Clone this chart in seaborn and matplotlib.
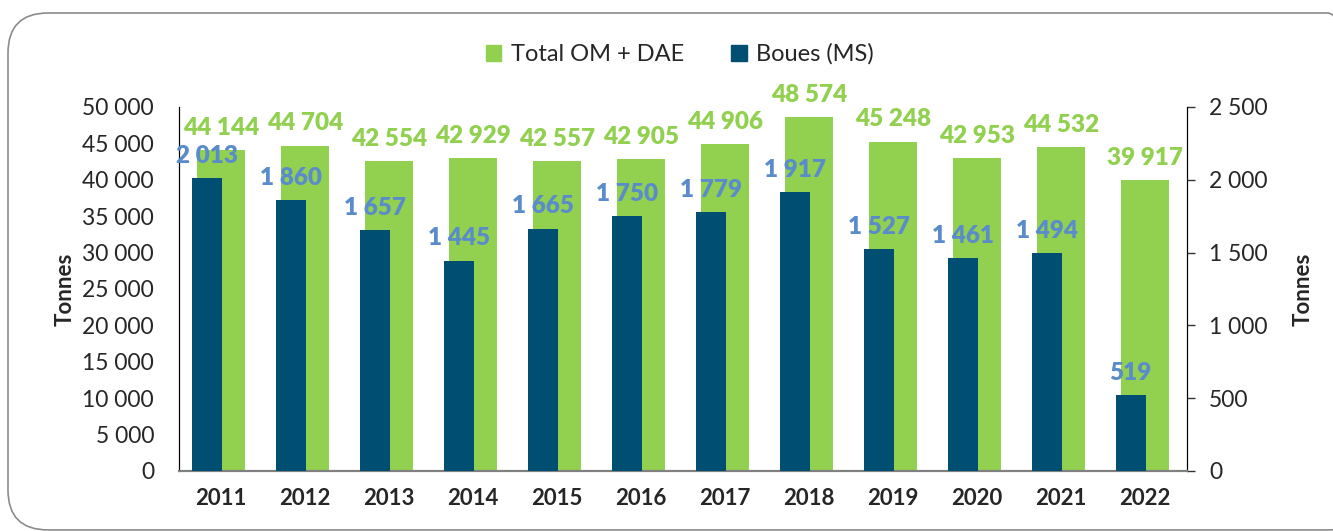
import pandas as pd
import matplotlib.pyplot as plt
import seaborn as sns
from matplotlib.patches import FancyBboxPatch, Patch

# data
years = ["2011", "2012", "2013", "2014", "2015", "2016", "2017", "2018", "2019", "2020", "2021", "2022"]
total_om_dae = [44144, 44704, 42554, 42929, 42557, 42905, 44906, 48574, 45248, 42953, 44532, 39917]
boues_ms = [2013, 1860, 1657, 1445, 1665, 1750, 1779, 1917, 1527, 1461, 1494, 519]

green = "#92D050"
dark = "#004E71"
label_blue = "#5A8CCB"

df = pd.DataFrame({"year": years, "total": total_om_dae, "boues": boues_ms})

sns.set_style("white")
plt.rcParams["font.family"] = ["Lato", "DejaVu Sans"]


def fmt(v):
    return f"{v:,}".replace(",", " ")


fig = plt.figure(figsize=(13.33, 5.31), dpi=100)
ax = fig.add_axes([0.1343, 0.113, 0.7562, 0.6855])
ax2 = ax.twinx()

# green bars on the left axis
sns.barplot(data=df, x="year", y="total", order=years, color=green, width=0.57,
            saturation=1, linewidth=0, ax=ax, zorder=2)

# dark bars on the right axis, shifted a bit to the left
sns.barplot(data=df, x="year", y="boues", order=years, color=dark, width=0.36,
            saturation=1, linewidth=0, ax=ax2, zorder=3)
for p in ax2.patches:
    p.set_x(p.get_x() - 0.17)

ax.set_ylim(0, 50000)
ax2.set_ylim(0, 2500)
ax.set_yticks(range(0, 50001, 5000))
ax2.set_yticks(range(0, 2501, 500))
ax.set_yticklabels([fmt(v) for v in range(0, 50001, 5000)], fontsize=16.5)
ax2.set_yticklabels([fmt(v) for v in range(0, 2501, 500)], fontsize=16.5)
ax.set_xlim(-0.5, len(years) - 0.5)

ax.set_xticks(range(len(years)))
ax.set_xticklabels(years, fontsize=16, fontweight="bold")
ax.tick_params(axis="x", length=0, pad=12)
ax.tick_params(axis="y", length=0, pad=18)
ax2.tick_params(axis="y", length=6, width=1, color="#333333", pad=10)

ax.set_xlabel("")
ax.set_ylabel("Tonnes", fontsize=16, fontweight="bold", labelpad=5)
ax2.set_ylabel("Tonnes", fontsize=16, fontweight="bold", labelpad=18)

for a in (ax, ax2):
    a.spines["top"].set_visible(False)
    a.spines["left"].set_color("black")
    a.spines["right"].set_color("black")
    a.spines["bottom"].set_color("#808080")
    a.spines["bottom"].set_linewidth(1.5)
    a.grid(False)

# value labels
for i, v in enumerate(total_om_dae):
    ax.annotate(fmt(v), (i, v), xytext=(0, 8), textcoords="offset points",
                ha="center", va="bottom", fontsize=17.5, fontweight="heavy",
                color=green, clip_on=False, zorder=5)
for i, v in enumerate(boues_ms):
    ax2.annotate(fmt(v), (i - 0.17, v), xytext=(0, 8), textcoords="offset points",
                 ha="center", va="bottom", fontsize=17.5, fontweight="heavy",
                 color=label_blue, clip_on=False, zorder=5)

# legend at the top
handles = [Patch(color=green, label="Total OM + DAE"), Patch(color=dark, label="Boues (MS)")]
fig.legend(handles=handles, loc="center", bbox_to_anchor=(0.51, 0.898), ncol=2,
           frameon=False, fontsize=17, handlelength=0.65, handleheight=0.65,
           handletextpad=0.4, columnspacing=2.0)

# rounded frame around the chart (runs off the right edge)
frame = FancyBboxPatch((0.006, 0.002), 1.02, 0.9735, boxstyle="round,pad=0,rounding_size=0.03",
                       transform=fig.transFigure, facecolor="none", edgecolor="#8c8c8c",
                       linewidth=1.2, mutation_aspect=1333 / 531, clip_on=False)
fig.patches.append(frame)

fig.savefig("out.png", dpi=100)
